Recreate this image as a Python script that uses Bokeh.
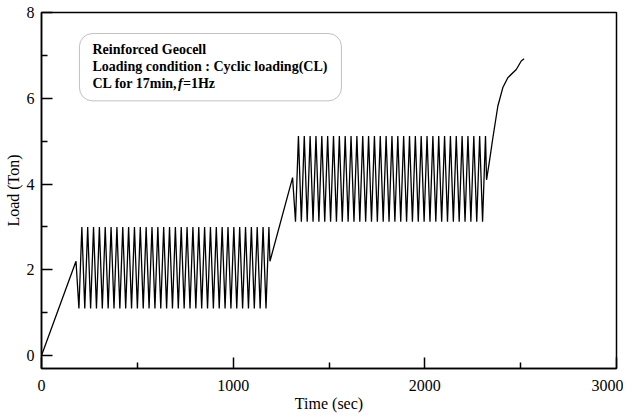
import numpy as np
from bokeh.plotting import figure
from bokeh.models import FixedTicker, Label, BoxAnnotation, Range1d
from bokeh.embed import file_html
from bokeh.resources import INLINE

# ---- data ----
ramp1_t = [0, 180]
ramp1_load = [0.0, 2.2]

# cyclic block 1 (CL at first load level)
blk1_start, blk1_end = 180, 1192
blk1_low, blk1_high = 1.1, 3.0
blk1_end_load = 2.2

ramp2_t = [1192, 1310]
ramp2_load = [2.2, 4.15]

# cyclic block 2
blk2_start, blk2_end = 1310, 2322
blk2_low, blk2_high = 3.12, 5.12
blk2_end_load = 4.1

final_t = [2322, 2337, 2355, 2381, 2407, 2433, 2477, 2503, 2518]
final_load = [4.1, 4.53, 5.08, 5.82, 6.25, 6.48, 6.67, 6.87, 6.92]

visible_period = 30.5  # apparent (aliased) period of the plotted cycles, seconds

x_ticks = [0, 1000, 2000, 3000]
x_minor = [500, 1500, 2500]
y_ticks = [0, 2, 4, 6, 8]
y_minor = [1, 3, 5, 7]


def cyclic(start, end, low, high, end_load):
    half = visible_period / 2.0
    ts, vs = [], []
    k = 1
    while start + k * half < end:
        ts.append(start + k * half)
        vs.append(low if k % 2 == 1 else high)
        k += 1
    ts.append(end)
    vs.append(end_load)
    return ts, vs


b1t, b1v = cyclic(blk1_start, blk1_end, blk1_low, blk1_high, blk1_end_load)
b2t, b2v = cyclic(blk2_start, blk2_end, blk2_low, blk2_high, blk2_end_load)

t_all = ramp1_t + b1t + ramp2_t[1:] + b2t + final_t[1:]
load_all = ramp1_load + b1v + ramp2_load[1:] + b2v + final_load[1:]

FONT = "Liberation Serif"

p = figure(frame_width=575, frame_height=356,
           x_range=Range1d(0, 3000), y_range=Range1d(-0.3, 8),
           output_backend="svg", toolbar_location=None,
           min_border_left=41, min_border_right=7,
           min_border_top=12, min_border_bottom=46)

p.line(t_all, load_all, line_color="black", line_width=1.3)

p.grid.visible = False
p.outline_line_color = "black"
p.outline_line_width = 1.5
p.background_fill_color = "white"
p.border_fill_color = "white"

xa = p.xaxis[0]
xa.ticker = FixedTicker(ticks=x_ticks, minor_ticks=x_minor)
xa.axis_label = "Time (sec)"
ya = p.yaxis[0]
ya.ticker = FixedTicker(ticks=y_ticks, minor_ticks=y_minor)
ya.axis_label = "Load (Ton)"

for ax in (xa, ya):
    ax.axis_line_color = "black"
    ax.axis_line_width = 1.5
    ax.major_tick_in = 11
    ax.major_tick_out = 0
    ax.minor_tick_in = 6
    ax.minor_tick_out = 0
    ax.major_tick_line_width = 1.5
    ax.minor_tick_line_width = 1.5
    ax.major_label_text_font = FONT
    ax.major_label_text_font_size = "16px"
    ax.major_label_text_color = "black"
    ax.axis_label_text_font = FONT
    ax.axis_label_text_font_size = "16px"
    ax.axis_label_text_font_style = "normal"
    ax.axis_label_text_color = "black"

xa.major_label_standoff = 11
xa.axis_label_standoff = 1
ya.major_label_standoff = 7
ya.axis_label_standoff = 2

# annotation box
box = BoxAnnotation(left=198, right=1565, top=7.51, bottom=5.94,
                    fill_color="white", fill_alpha=1.0,
                    line_color="#333333", line_width=1, border_radius=13)
p.add_layout(box)

lines = [("Reinforced Geocell", 266, 7.13, "bold"),
         ("Loading condition : Cyclic loading(CL)", 266, 6.74, "bold"),
         ("CL for 17min,", 266, 6.34, "bold"),
         ("f", 712, 6.34, "bold italic"),
         ("=1Hz", 738, 6.34, "bold")]
for txt, x, y, style in lines:
    p.add_layout(Label(x=x, y=y, text=txt, text_font=FONT,
                       text_font_size="14px", text_font_style=style,
                       text_baseline="middle", text_align="left",
                       text_color="black"))

open("out.html", "w").write(file_html(p, INLINE))
